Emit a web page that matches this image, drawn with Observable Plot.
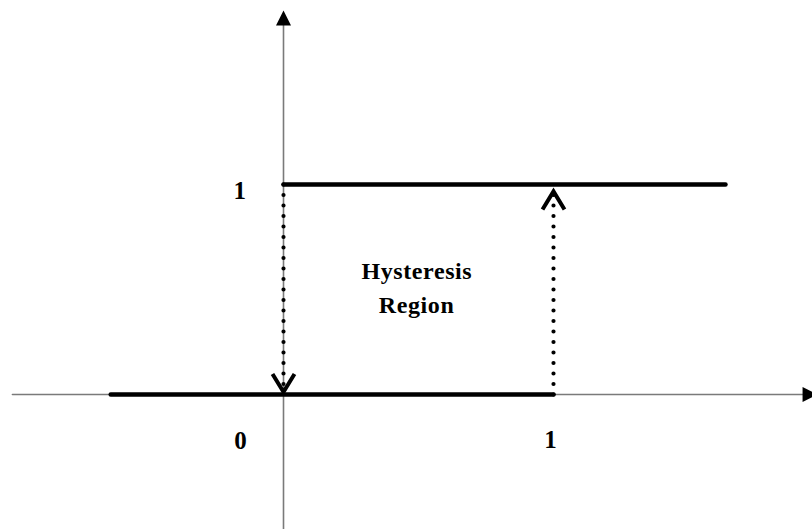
<!DOCTYPE html>
<html>
<head>
<meta charset="utf-8">
<script src="https://cdn.jsdelivr.net/npm/d3@7"></script>
<script src="https://cdn.jsdelivr.net/npm/@observablehq/plot@0.6"></script>
<style>
  html, body { margin: 0; padding: 0; background: #fff; }
  #chart svg { display: block; }
</style>
</head>
<body>
<div id="chart"></div>
<script>
// ---- data (in the chart's own input/output units) ----
const axisXSpan = [-1.004, 1.935];        // horizontal axis line, y = 0
const axisYSpan = [-0.643, 1.757];        // vertical axis line, x = 0
const axisTips = [
  {x: 0, y: 1.829, rotate: 0},            // top arrow tip
  {x: 1.978, y: 0, rotate: 90}            // right arrow tip
];
const upperBranchX = [0, 1.637];          // output = 1
const upperBranchY = 1;
const lowerBranchX = [-0.64, 1];          // output = 0
const lowerBranchY = 0;
const switchDown = {x: 0, from: 1, to: 0.012};   // dotted, arrow down at input 0
const switchUp   = {x: 1, from: 0, to: 0.967};   // dotted, arrow up at input 1
const tickLabels = ["1", "0", "1"];
const tickLabelX = [-0.162, -0.159, 0.989];
const tickLabelY = [0.967, -0.221, -0.219];
const regionText = ["Hysteresis", "Region"];
const regionTextX = [0.494, 0.493];
const regionTextY = [0.588, 0.426];

// ---- custom symbols ----
const filledHead = {
  draw(ctx) { ctx.moveTo(0, 0); ctx.lineTo(-7.5, 15); ctx.lineTo(7.5, 15); ctx.closePath(); }
};
const chevron = {
  draw(ctx) { ctx.moveTo(-11, -18); ctx.lineTo(0, 0); ctx.lineTo(11, -18); }
};

const fontFam = "'Liberation Serif', 'Times New Roman', serif";

const plot = Plot.plot({
  width: 812,
  height: 529,
  margin: 0,
  x: {domain: [-283 / 270, 529 / 270], axis: null},
  y: {domain: [-135 / 210, 394 / 210], axis: null},
  marks: [
    // axes
    Plot.line(axisXSpan.map(x => ({x, y: 0})), {x: "x", y: "y", stroke: "#7a7a7a", strokeWidth: 1.6}),
    Plot.line(axisYSpan.map(y => ({x: 0, y})), {x: "x", y: "y", stroke: "#7a7a7a", strokeWidth: 1.6}),
    Plot.dot(axisTips, {x: "x", y: "y", rotate: "rotate", symbol: filledHead, fill: "#000", stroke: "none"}),
    // branches
    Plot.line(lowerBranchX.map(x => ({x, y: lowerBranchY})), {x: "x", y: "y", stroke: "#000", strokeWidth: 4.5}),
    Plot.line(upperBranchX.map(x => ({x, y: upperBranchY})), {x: "x", y: "y", stroke: "#000", strokeWidth: 4.5}),
    // dotted switching lines
    Plot.line([{x: switchDown.x, y: switchDown.from}, {x: switchDown.x, y: switchDown.to}],
      {x: "x", y: "y", stroke: "#000", strokeWidth: 4.2, strokeDasharray: "0,10.5", strokeLinecap: "round"}),
    Plot.line([{x: switchUp.x, y: switchUp.from}, {x: switchUp.x, y: switchUp.to}],
      {x: "x", y: "y", stroke: "#000", strokeWidth: 4.2, strokeDasharray: "0,10.5", strokeLinecap: "round"}),
    Plot.dot([{x: switchDown.x, y: switchDown.to, r: 0}, {x: switchUp.x, y: switchUp.to, r: 180}],
      {x: "x", y: "y", rotate: "r", symbol: chevron, fill: "none", stroke: "#000", strokeWidth: 4, strokeLinejoin: "miter"}),
    // labels
    Plot.text(tickLabels, {x: (d, i) => tickLabelX[i], y: (d, i) => tickLabelY[i], text: d => d,
      fontFamily: fontFam, fontWeight: "bold", fontSize: 25, fill: "#000"}),
    Plot.text(regionText, {x: (d, i) => regionTextX[i], y: (d, i) => regionTextY[i], text: d => d,
      fontFamily: fontFam, fontWeight: "bold", fontSize: 24, fill: "#000"})
  ]
});
// slightly widen the region caption like the reference's heavier type
d3.select(plot).selectAll("text").filter(function() { return regionText.includes(this.textContent); })
  .style("letter-spacing", "0.6px");
document.getElementById("chart").appendChild(plot);
</script>
</body>
</html>
